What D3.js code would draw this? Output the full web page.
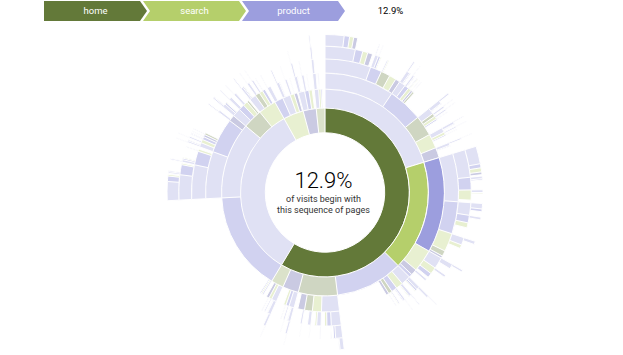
<!DOCTYPE html>
<html><head><meta charset="utf-8">
<script src="https://cdn.jsdelivr.net/npm/d3@7"></script>
<style>
body{margin:0;background:#fff;font-family:Roboto,"Open Sans",sans-serif;}
svg{display:block;}
</style></head><body>
<svg id="chart" width="623" height="355"></svg>
<script>
// ---- data ----
const sequences = [
"home-product-product-product-product-product","home-product-product-product-product-other","home-product-product-product-product-search","home-product-product-product-product-end",
"home-product-product-product-other","home-product-product-product-search","home-product-product-product-end","home-product-product-product",
"home-product-product-other","home-product-product-other-product","home-product-product-other-other","home-product-product-other-search",
"home-product-product-home","home-product-product-home-product","home-product-product-home-search","home-product-product-search","home-product-product-end",
"home-product-other","home-product-other-product","home-product-other-product-product","home-product-other-product-product-product",
"home-product-other-other","home-product-other-other-product","home-product-other-search","home-product-other-search-product","home-product-other-end","home-product-other-home",
"home-product-home","home-product-home-product","home-product-home-product-product","home-product-home-product-product-product",
"home-product-home-home","home-product-home-home-product","home-product-home-search","home-product-home-search-product","home-product-home-other",
"home-product-search","home-product-search-product","home-product-search-product-product","home-product-search-product-product-product",
"home-product-search-search","home-product-search-search-product","home-product-search-other",
"home-product-end","home-product-end-product","home-product-end-product-product",
"home-search-product-product-product-product","home-search-product-product-product-other","home-search-product-product-product-search","home-search-product-product-product-end","home-search-product-product-product",
"home-search-product-product-other","home-search-product-product-other-product","home-search-product-product-other-other",
"home-search-product-product-search","home-search-product-product-search-product","home-search-product-product-search-search","home-search-product-product",
"home-search-product-other-product","home-search-product-other-product-product","home-search-product-other-product-other",
"home-search-product-other-other","home-search-product-other-other-product","home-search-product-other-search","home-search-product-other",
"home-search-product-search-product","home-search-product-search-product-product","home-search-product-search-search","home-search-product-search",
"home-search-product-home","home-search-product-end",
"home-search-search-product","home-search-search-product-product","home-search-search-product-product-product",
"home-search-search-search","home-search-search-search-product","home-search-search-other","home-search-search",
"home-search-end","home-search-end-product","home-search-other",
"home-other-product","home-other-product-product","home-other-product-product-product","home-other-product-other",
"home-other-search","home-other-search-product","home-other-search-search","home-other-other","home-other-other-product","home-other-other-other",
"home-other-home","home-other-home-product","home-other-end","home-other",
"home-home-product-product-product-product","home-home-product-product-product","home-home-product-product-other","home-home-product-product",
"home-home-product-other","home-home-product-search","home-home-product",
"home-home-search-product","home-home-search-search","home-home-search","home-home-home-product","home-home-home",
"home-home-end-product","home-home-end","home-home",
"home-end-product-product-product","home-end-product-product","home-end-product","home-end-other","home-end-other-product","home-end-search","home-end",
"home-account-product-product-product","home-account-product-product","home-account-product","home-account-search-product","home-account-search","home-account-end","home-account",
"product-other","product-other-product","product-other-search","product-other-other",
"product-product-product-product-product-product","product-product-product-product-product-other","product-product-product-product-product-search","product-product-product-product-product",
"product-product-product-product-other","product-product-product-product-other-product","product-product-product-product-other-other","product-product-product-product-search","product-product-product-product",
"product-product-product-other","product-product-product-other-product","product-product-product-other-product-product","product-product-product-other-other","product-product-product-other-search",
"product-product-product-search","product-product-product-search-product","product-product-product",
"product-product-other","product-product-other-product","product-product-other-product-product","product-product-other-product-product-product",
"product-product-other-other","product-product-other-other-product","product-product-other-search","product-product-other-end",
"product-product-end","product-product-end-product","product-product-end-product-product",
"product-home-product","product-home-product-product","product-home-product-product-product","product-home-product-other",
"product-home-other","product-home-other-product","product-home-search","product-home-search-product","product-home-home","product-home",
"product-search-product","product-search-product-product","product-search-product-product-product","product-search-product-other",
"product-search-home","product-search-home-product","product-search-search","product-search-search-product","product-search-other","product-search",
"search-other","search-other-product","search-product","search-product-product","search-product-product-product","search-search","search-search-product","search-end","search",
"end-product","end-product-product","end-product-product-product","end-other","end-other-product","end-search","end",
"account-product","account-product-product","account-product-product-product","account-product-product-product-product","account-product-product-product-product-product",
"account-search","account-search-product","account-other","account",
// thin outer slivers
"product-product-other-home","product-product-other-home-product","product-product-other-product-other","product-product-other-search-product",
"product-product-other-search-product-product","product-product-other-other-other","product-product-other-end-product",
"product-home-product-search","product-home-product-product-other","product-home-other-product-product","product-home-search-product-product",
"product-search-product-search","product-search-home-product-product","product-search-other-product","product-search-search-product-product",
"search-other-product-product","search-product-other","search-search-product-product","search-end-product",
"end-product-other","end-other-product-product","end-search-product","end-product-product-product-product",
"home-product-other-product-other","home-product-other-other-other","home-product-other-search-search","home-product-other-end-product",
"home-product-other-home-product","home-product-other-other-product-product",
"home-other-product-search","home-other-search-product-product","home-other-other-product-product","home-other-end-product",
"home-other-home-search","home-other-product-product-product-product",
"home-home-product-product-product-other","home-home-product-other-product","home-home-search-product-product","home-home-home-product-product","home-home-end-product-product",
"home-end-product-other","home-end-search-product","home-end-product-product-product-product","home-end-other-product-product",
"home-account-product-other","home-account-end-product","home-account-product-product-product-product",
"home-product-home-product-other","home-product-home-search-product-product","home-product-home-other-product","home-product-home-home-product-product",
"home-product-search-product-other","home-product-search-other-product","home-product-search-search-product-product",
"home-product-end-other","home-product-end-product-product-product",
"home-product-product-other-product-product","home-product-product-other-other-product"
];
const counts = [
70,20,15,15,
30,20,20,10,
23,10,6,4,
30,6,4,30,20,
91,10,8,6,
8,5,7,4,6,6,
38,10,8,7,
6,5,6,4,4,
31,8,6,4,
6,3,3,
33,6,4,
65,15,15,10,5,
35,10,5,
25,10,5,10,
20,20,10,
20,10,20,40,
18,12,15,35,
24,10,
30,12,8,
20,10,20,10,
20,10,16,
20,6,6,8,
18,8,4,15,6,4,
9,6,10,239,
15,10,8,7,
15,10,15,
15,8,17,12,23,
6,24,18,
6,4,10,8,4,8,37,
7,5,8,6,8,10,16,
540,8,6,6,
70,20,6,4,
30,6,4,6,4,
40,5,5,6,4,
6,4,10,
104,8,4,3,
6,4,8,7,
20,5,5,
15,6,6,8,
15,10,12,8,10,7,
15,5,5,5,
12,8,9,6,10,12,
30,15,25,8,7,12,8,15,5,
18,6,6,12,8,15,11,
8,5,4,3,5,
7,5,8,15,
5,4,4,4,
3,3,3,
3,3,4,3,
3,3,4,3,
4,4,3,4,
3,4,4,3,
4,3,3,3,
3,3,
4,4,3,4,
3,3,
3,4,4,3,3,
3,4,3,3,
3,4,3,
3,3,3,3,
3,3,3,
4,3,
4,3
];
const pageNames  = ["home","search","product","other","end","account"];
const pageColors = ["#637939","#b5cf6b","#9c9ede","#6b6ecf","#5254a3","#8ca252"];
const hoveredSequence = ["home","search","product"];
const explanationLines = ["of visits begin with","this sequence of pages"];

// ---- layout ----
const svg = d3.select("#chart");
const radius = 158;
const cx = 325, cy = 192.5;
const b = {w: 96, h: 20, s: 3, t: 7};
const color = d3.scaleOrdinal(pageNames, pageColors);

function buildHierarchy(seqs, cnts) {
  const root = {name: "root", children: []};
  seqs.forEach((s, i) => {
    let node = root;
    s.split("-").forEach(p => {
      if (!node.children) node.children = [];
      let child = node.children.find(c => c.name === p);
      if (!child) { child = {name: p}; node.children.push(child); }
      node = child;
    });
    node.own = (node.own || 0) + cnts[i];
  });
  return root;
}

const root = d3.hierarchy(buildHierarchy(sequences, counts))
  .sum(d => d.own || 0)
  .sort((a, b) => b.value - a.value);
d3.partition().size([2 * Math.PI, radius * radius])(root);

const arc = d3.arc()
  .startAngle(d => d.x0).endAngle(d => d.x1)
  .innerRadius(d => Math.sqrt(d.y0))
  .outerRadius(d => Math.sqrt(d.y1));

let hovered = root;
hoveredSequence.forEach(n => { hovered = hovered.children.find(c => c.data.name === n); });
const seqNodes = hovered.ancestors().reverse().slice(1);
const pct = (100 * hovered.value / root.value).toPrecision(3) + "%";

const g = svg.append("g").attr("transform", `translate(${cx},${cy})`);
g.selectAll("path")
  .data(root.descendants().filter(d => d.depth && (d.x1 - d.x0) > 0.005))
  .join("path")
  .attr("d", arc)
  .attr("fill", d => color(d.data.name))
  .attr("stroke", "#fff")
  .attr("stroke-width", 1)
  .attr("opacity", d => seqNodes.indexOf(d) >= 0 ? 1 : 0.3);

// explanation
const ex = svg.append("g").attr("transform", `translate(${cx - 1.5},${cy})`)
  .attr("text-anchor", "middle");
ex.append("text").attr("y", -4.5).attr("font-size", 22).attr("font-weight", 300)
  .attr("fill", "#000").text(pct);
ex.selectAll("text.l").data(explanationLines).join("text").attr("class", "l")
  .attr("y", (d, i) => 9.5 + i * 10.5).attr("font-size", 9).attr("fill", "#333").text(d => d);

// breadcrumb
function points(i) {
  const p = ["0,0", `${b.w},0`, `${b.w + b.t},${b.h / 2}`, `${b.w},${b.h}`, `0,${b.h}`];
  if (i > 0) p.push(`${b.t},${b.h / 2}`);
  return p.join(" ");
}
const trail = svg.append("g").attr("transform", "translate(44,1)");
const crumbs = trail.selectAll("g").data(seqNodes).join("g")
  .attr("transform", (d, i) => `translate(${i * (b.w + b.s)},0)`);
crumbs.append("polygon").attr("points", (d, i) => points(i)).attr("fill", d => color(d.data.name));
crumbs.append("text").attr("x", (b.w + b.t) / 2).attr("y", b.h / 2).attr("dy", "0.35em")
  .attr("text-anchor", "middle").attr("fill", "#fff").attr("font-size", 9.5).text(d => d.data.name);
trail.append("text").attr("x", (seqNodes.length + 0.5) * (b.w + b.s)).attr("y", b.h / 2).attr("dy", "0.35em")
  .attr("text-anchor", "middle").attr("fill", "#000").attr("font-size", 9.5).text(pct);
</script>
</body></html>
